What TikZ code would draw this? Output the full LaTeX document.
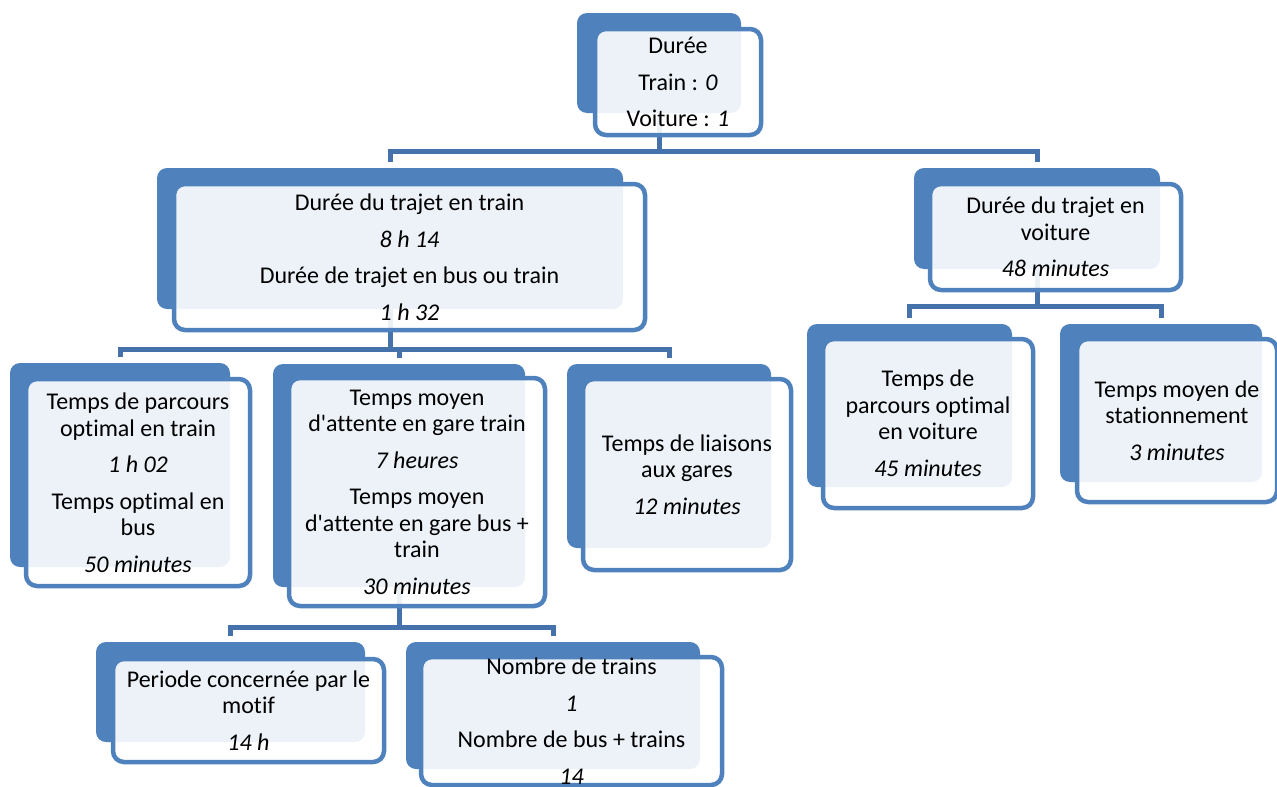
\documentclass[tikz,border=0pt]{standalone}
\usepackage{fontspec}
\setmainfont{Carlito}[Ligatures={TeXOff,NoCommon}]
\usetikzlibrary{calc}

\definecolor{accent}{HTML}{4F81BD}
\definecolor{linkblue}{HTML}{4672AC}

% drawing order: connectors, then the solid back plates, then the framed cards
\pgfdeclarelayer{links}
\pgfdeclarelayer{backs}
\pgfsetlayers{links,backs,main}

\tikzset{
  backbox/.style={fill=accent, draw=none, rounded corners=10pt, inner sep=0pt, outer sep=0pt},
  frontbox/.style={draw=accent, line width=4.5pt, fill=white, fill opacity=0.9,
                   rounded corners=11pt, inner sep=0pt, outer sep=0pt},
  boxtext/.style={text=black, align=center, inner sep=0pt,
                  font=\fontsize{24}{26.5}\selectfont},
  link/.style={draw=linkblue, line width=5pt, shorten >=6pt},
}

% #1 name, #2 plate centre, #3/#4 plate size, #5 card centre, #6/#7 card size, #8 text
\newcommand\tierbox[8]{%
  \begin{pgfonlayer}{backs}
    \node[backbox, minimum width=#3pt, minimum height=#4pt] (#1-b) at #2 {};
  \end{pgfonlayer}
  \node[frontbox, minimum width=#6pt, minimum height=#7pt] (#1) at #5 {};
  \node[boxtext] (#1-t) at (#1.center) {#8};
}
\newcommand\pgap{\\[10pt]}

\begin{document}
\begin{tikzpicture}[x=1pt, y=-1pt]
  \useasboundingbox (0,0) rectangle (1277,787);

  \tierbox{dur}{(659,63)}{164}{100}{(678,82)}{166}{106}
    {Durée\pgap Train : \textit{0}\pgap Voiture : \textit{1}}

  \tierbox{train}{(390,238.5)}{466}{141}{(409.5,257)}{471}{146}
    {Durée du trajet en train\pgap \textit{8 h 14}\pgap
     Durée de trajet en bus ou train\pgap \textit{1 h 32}}

  \tierbox{voit}{(1037,218.5)}{246}{101}{(1055.5,237)}{251}{106}
    {Durée du trajet en\\voiture\pgap \textit{48 minutes}}

  \tierbox{parc}{(120,465)}{220}{204}{(138,482.5)}{224}{207}
    {Temps de parcours\\optimal en train\pgap \textit{1 h 02}\pgap
     Temps optimal en\\bus\pgap \textit{50 minutes}}

  \tierbox{att}{(399,475.5)}{252}{223}{(417,492)}{256}{228}
    {Temps moyen\\d'attente en gare train\pgap \textit{7 heures}\pgap
     Temps moyen\\d'attente en gare bus +\\train\pgap \textit{30 minutes}}

  \tierbox{liai}{(669,456)}{204}{184}{(687,474.5)}{208}{191}
    {Temps de liaisons\\aux gares\pgap \textit{12 minutes}}

  \tierbox{pvoit}{(909.5,405.5)}{205}{163}{(928,423.5)}{210}{169}
    {Temps de\\parcours optimal\\en voiture\pgap \textit{45 minutes}}

  \tierbox{stat}{(1161,403)}{202}{158}{(1177,420.5)}{200}{163}
    {Temps moyen de\\stationnement\pgap \textit{3 minutes}}

  \tierbox{peri}{(230.5,692)}{269}{100}{(248.5,710.5)}{271}{103}
    {Periode concernée par le\\motif\pgap \textit{14 h}}

  \tierbox{nomb}{(553,705.5)}{294}{127}{(571.5,721)}{301}{128}
    {Nombre de trains\pgap \textit{1}\pgap Nombre de bus + trains\pgap \textit{14}}

  % heights of the horizontal bars of each branching
  \coordinate (bar-dur)   at (659,151);
  \coordinate (bar-train) at (390,349);
  \coordinate (bar-voit)  at (1037,306);
  \coordinate (bar-att)   at (399,627);

  \begin{pgfonlayer}{links}
    \draw[link] (dur-b.center) |- (bar-dur -| train-b.north) -- (train-b.north);
    \draw[link] (dur-b.center) |- (bar-dur -| voit-b.north) -- (voit-b.north);

    \draw[link] (train-b.center) |- (bar-train -| parc-b.north) -- (parc-b.north);
    \draw[link] (train-b.center) |- (bar-train -| att-b.north) -- (att-b.north);
    \draw[link] (train-b.center) |- (bar-train -| liai-b.north) -- (liai-b.north);

    \draw[link] (voit-b.center) |- (bar-voit -| pvoit-b.north) -- (pvoit-b.north);
    \draw[link] (voit-b.center) |- (bar-voit -| stat-b.north) -- (stat-b.north);

    \draw[link] (att-b.center) |- (bar-att -| peri-b.north) -- (peri-b.north);
    \draw[link] (att-b.center) |- (bar-att -| nomb-b.north) -- (nomb-b.north);
  \end{pgfonlayer}
\end{tikzpicture}
\end{document}
